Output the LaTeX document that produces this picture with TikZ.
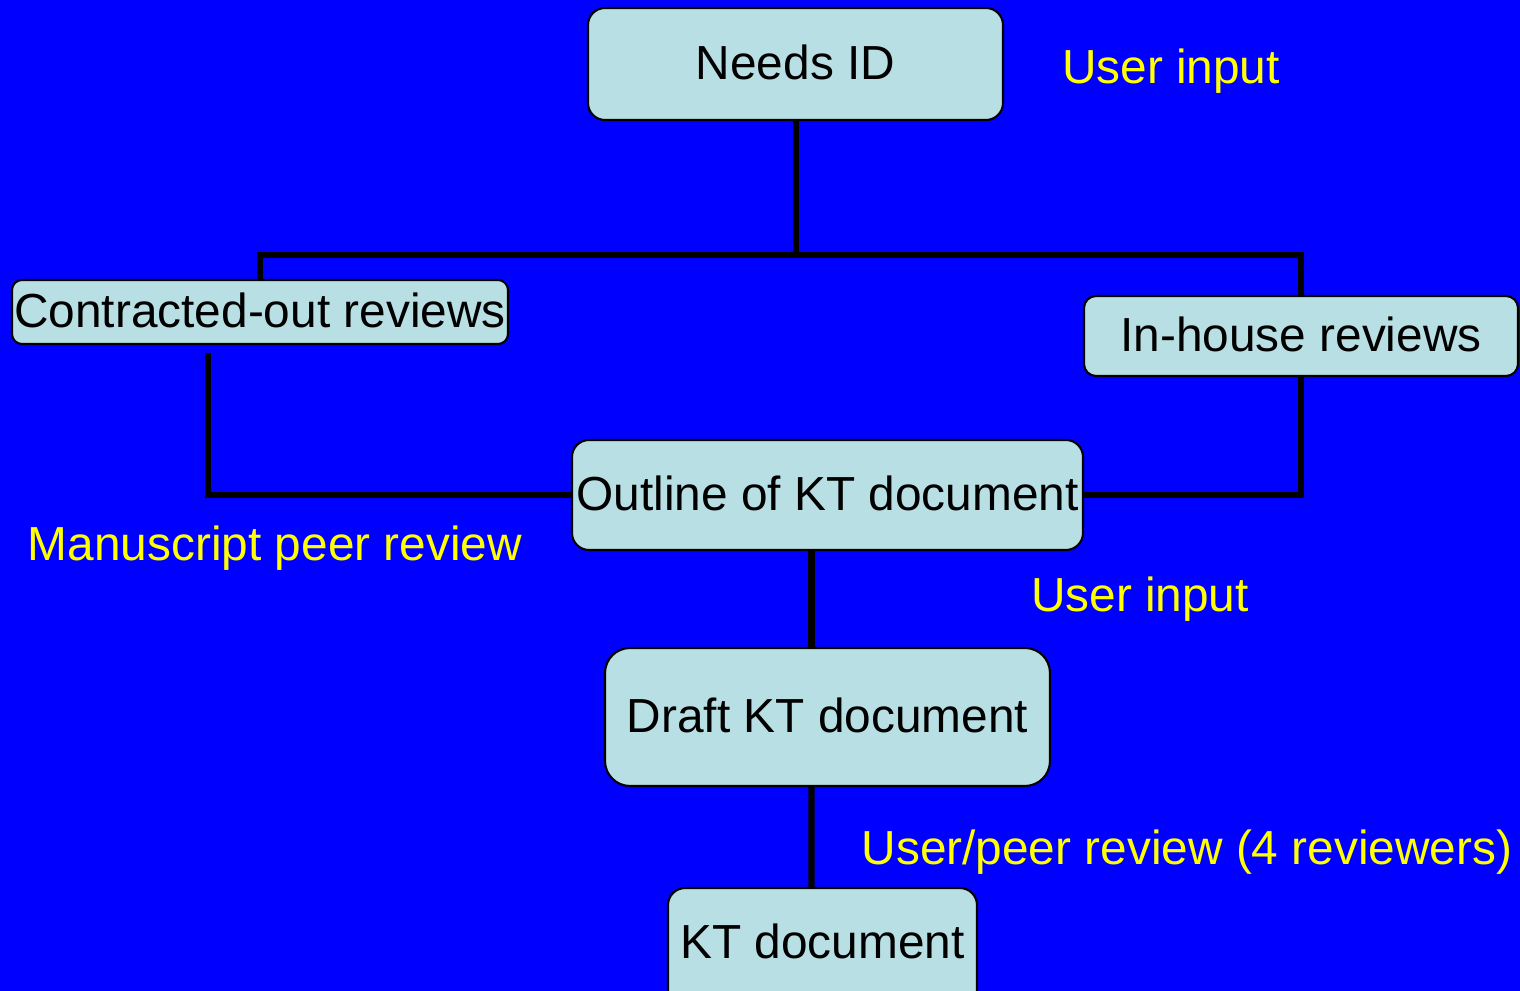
\documentclass[tikz,border=0pt]{standalone}
\usepackage{fontspec}
\setmainfont{Liberation Sans}
\usepackage{tikz}
\usetikzlibrary{positioning}
\definecolor{bgblue}{RGB}{0,0,255}
\definecolor{boxfill}{RGB}{184,223,227}
\definecolor{noteyellow}{RGB}{255,255,0}

\begin{document}
\begin{tikzpicture}[
  box/.style={draw=black, line width=0.6pt, fill=boxfill, rounded corners=0.17cm,
              inner sep=0pt, text height=0.88em, text depth=0pt,
              font=\fontsize{13.6}{16}\selectfont},
  note/.style={text=noteyellow, inner sep=0pt, text height=0.88em, text depth=0pt,
               font=\fontsize{13.6}{16}\selectfont},
  link/.style={line width=1.8pt}
]
  \path[use as bounding box] (0,0) rectangle (15.2,-9.91);
  \clip (0,0) rectangle (15.2,-9.91);
  \fill[bgblue] (0,0) rectangle (15.2,-9.91);

  \node[box, minimum width=4.15cm, minimum height=1.12cm] (needs) at (7.955,-0.64) {Needs ID};
  \node[box, minimum width=4.96cm, minimum height=0.64cm, rounded corners=0.1cm] (contracted) at (2.60,-3.12) {Contracted-out reviews};
  \node[box, minimum width=4.34cm, minimum height=0.80cm, rounded corners=0.12cm] (inhouse) at (13.01,-3.36) {In-house reviews};
  \node[box, minimum width=5.11cm, minimum height=1.10cm] (outline) at (8.275,-4.95) {Outline of KT document};
  \node[box, minimum width=4.45cm, minimum height=1.38cm, rounded corners=0.25cm] (draft) at (8.275,-7.17) {Draft KT document};
  \node[box, minimum width=3.09cm, minimum height=1.30cm, anchor=north] (ktdoc) at (8.225,-8.87) {\raisebox{0.10cm}{KT document}};

  \node[note] (input1) at (11.71,-0.68) {User input};
  \node[note] (peer) at (2.75,-5.45) {Manuscript peer review};
  \node[note] (input2) at (11.40,-5.96) {User input};
  \node[note] (users) at (11.87,-8.49) {User/peer review (4 reviewers)};

  \coordinate (split) at (7.96,-2.55);
  \coordinate (cleft) at (2.08,-3.53);

  % tree from the needs box
  \draw[link] (needs.south -| split) -- (split);
  \draw[link] (contracted.north) |- (split) -| (inhouse.north);
  % both reviews feed the outline
  \draw[link] (cleft) |- (outline.west);
  \draw[link] (inhouse.south) |- (outline.east);
  \draw[link] ([xshift=-1.6mm]outline.south) -- ([xshift=-1.6mm]draft.north);
  \draw[link] ([xshift=-1.6mm]draft.south) -- ([xshift=-1.1mm]ktdoc.north);
\end{tikzpicture}
\end{document}
